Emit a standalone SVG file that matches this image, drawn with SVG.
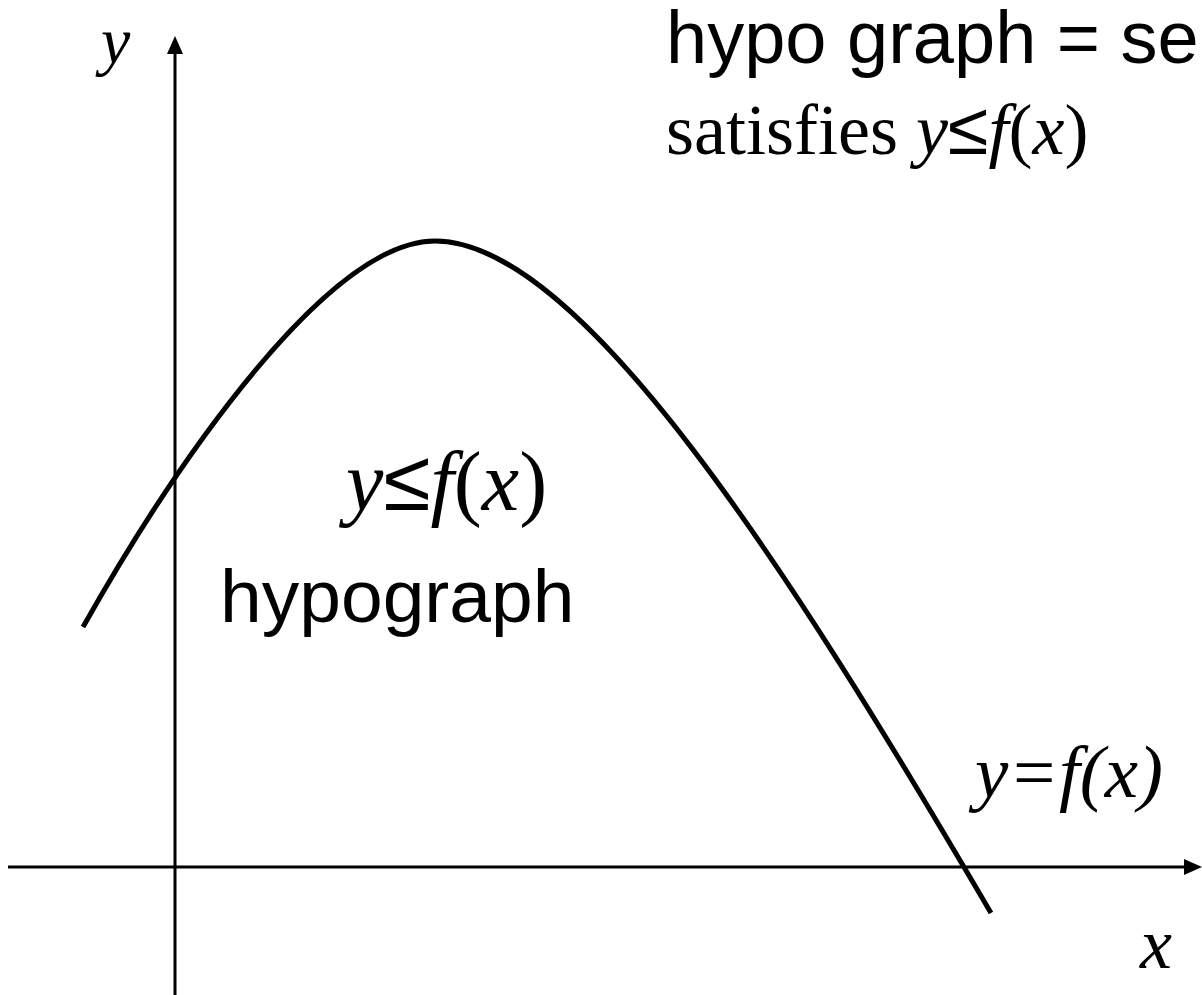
<svg xmlns="http://www.w3.org/2000/svg" width="1202" height="995" viewBox="0 0 1202 995">
<style>
.ax{stroke:#000;stroke-width:3;fill:none}
.cv{stroke:#000;stroke-width:5;fill:none}
.sans{font-family:"Liberation Sans",Arial,sans-serif;fill:#000}
.serif{font-family:"Liberation Serif","Times New Roman",serif;fill:#000}
.it{font-style:italic}
</style>
<rect width="1202" height="995" fill="#fff"/>
<g id="connectors">
<path class="ax" d="M175 995 V52"/>
<polygon points="175,36 167,54 183,54" fill="#000"/>
<path class="ax" d="M8 867 H1186"/>
<polygon points="1202,867 1184,859 1184,875" fill="#000"/>
<path id="curve" class="cv" d="M83 627 C180 455 330 241 435 241 C580 241 790 570 991 913"/>
</g>
<g id="label-y"><text class="serif it" x="101" y="63" font-size="66">y</text></g>
<g id="label-x"><text class="serif it" x="1140" y="968" font-size="72">x</text></g>
<g id="title">
<text class="sans" x="666" y="63" font-size="74">hypo graph = se</text>
<text class="serif" x="666" y="154" font-size="72">satisfies <tspan class="it">y</tspan><tspan class="sans" font-size="74">≤</tspan><tspan class="it">f</tspan>(<tspan class="it">x</tspan>)</text>
</g>
<g id="region">
<text class="serif" x="346" y="510" font-size="84"><tspan class="it">y</tspan><tspan class="sans" font-size="86">≤</tspan><tspan class="it">f</tspan>(<tspan class="it">x</tspan>)</text>
<text class="sans" x="220" y="622" font-size="75">hypograph</text>
</g>
<g id="curve-label"><text class="serif it" x="975" y="797" font-size="75">y=f(x)</text></g>
</svg>
